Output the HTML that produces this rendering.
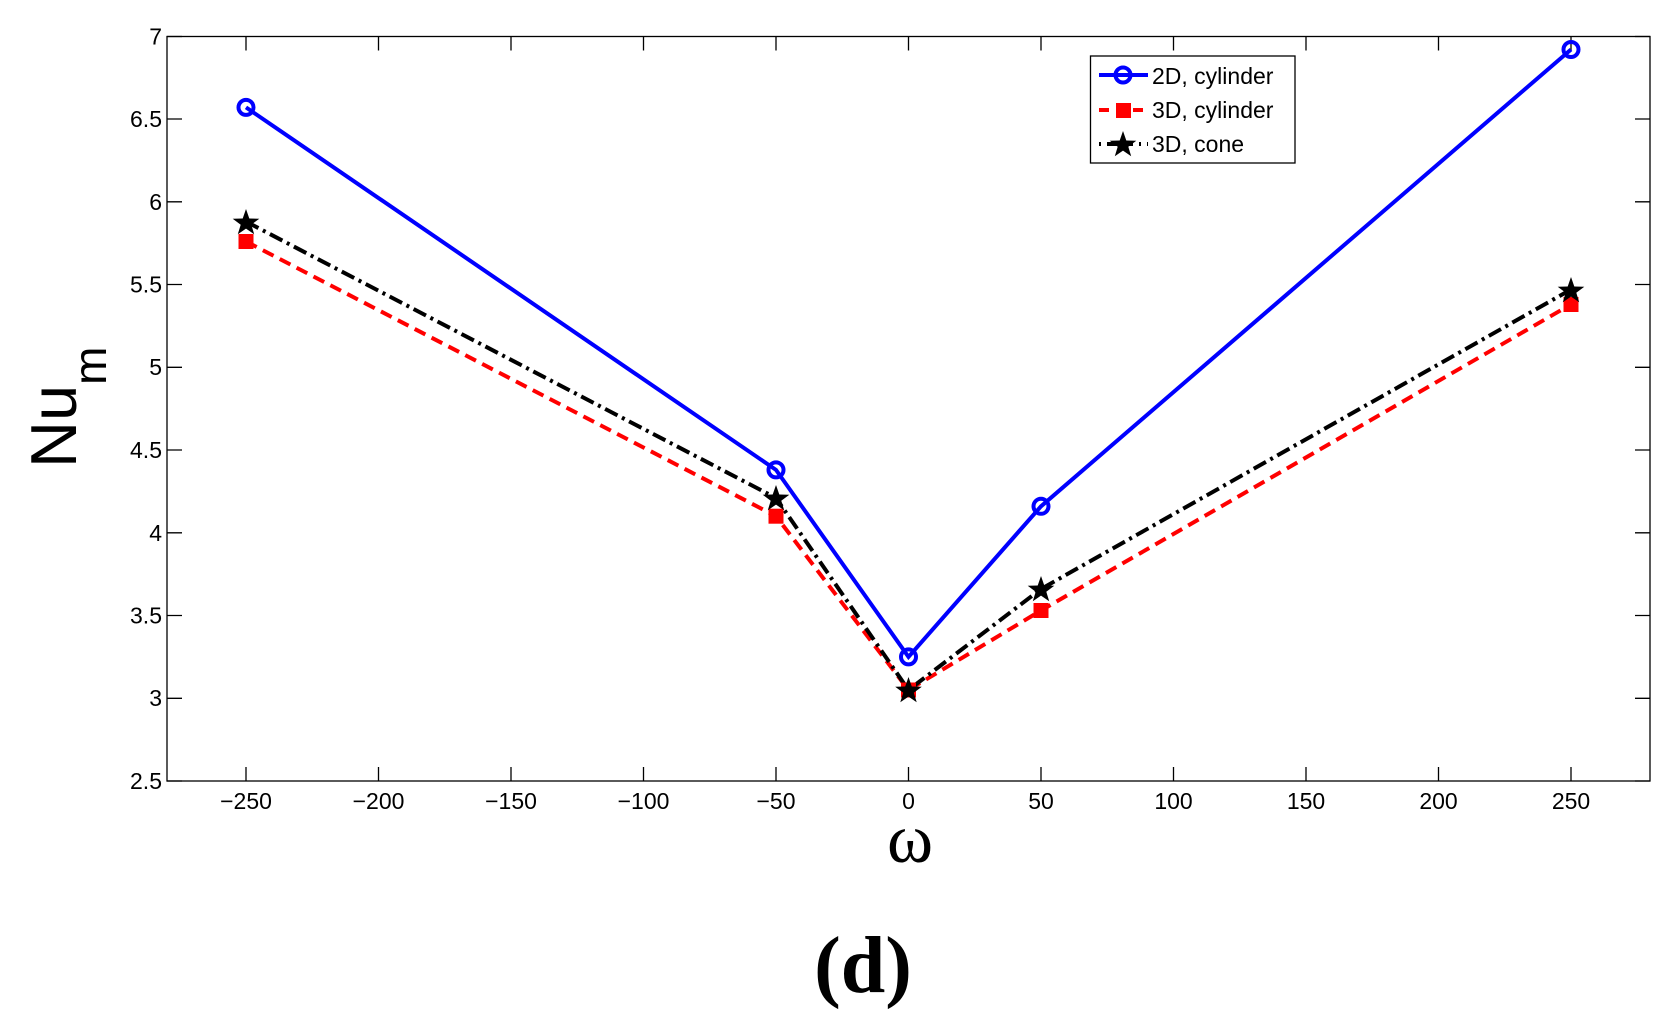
<!DOCTYPE html>
<html><head><meta charset="utf-8"><style>
html,body{margin:0;padding:0;background:#fff;}
svg{display:block;}
text{font-family:"Liberation Sans",sans-serif;}
</style></head><body>
<svg width="1680" height="1030" viewBox="0 0 1680 1030" xmlns="http://www.w3.org/2000/svg">
<rect x="167" y="36.5" width="1483" height="744.5" fill="#fff" stroke="#000" stroke-width="1.3"/>
<g stroke="#000" stroke-width="1.3">
<path d="M246 781v-14M246 36.5v14M378.5 781v-14M378.5 36.5v14M511 781v-14M511 36.5v14M643.5 781v-14M643.5 36.5v14M776 781v-14M776 36.5v14M908.5 781v-14M908.5 36.5v14M1041 781v-14M1041 36.5v14M1173.5 781v-14M1173.5 36.5v14M1306 781v-14M1306 36.5v14M1438.5 781v-14M1438.5 36.5v14M1571 781v-14M1571 36.5v14"/>
<path d="M167 781h15M1650 781h-15M167 698.3h15M1650 698.3h-15M167 615.5h15M1650 615.5h-15M167 532.8h15M1650 532.8h-15M167 450h15M1650 450h-15M167 367.3h15M1650 367.3h-15M167 284.5h15M1650 284.5h-15M167 201.8h15M1650 201.8h-15M167 119h15M1650 119h-15M167 36.5h15M1650 36.5h-15"/>
</g>
<g font-size="23" text-anchor="middle">
<text x="246" y="809">−250</text><text x="378.5" y="809">−200</text><text x="511" y="809">−150</text><text x="643.5" y="809">−100</text><text x="776" y="809">−50</text><text x="908.5" y="809">0</text><text x="1041" y="809">50</text><text x="1173.5" y="809">100</text><text x="1306" y="809">150</text><text x="1438.5" y="809">200</text><text x="1571" y="809">250</text>
</g>
<g font-size="23" text-anchor="end">
<text x="162" y="789">2.5</text><text x="162" y="706">3</text><text x="162" y="623.5">3.5</text><text x="162" y="541">4</text><text x="162" y="458">4.5</text><text x="162" y="375">5</text><text x="162" y="292.5">5.5</text><text x="162" y="210">6</text><text x="162" y="127">6.5</text><text x="162" y="44.5">7</text>
</g>
<text transform="translate(76,468) rotate(-90)" font-size="65">Nu<tspan font-size="46" dy="30">m</tspan></text>
<text x="910" y="862" font-size="70" text-anchor="middle" style="font-family:'Liberation Serif',serif">ω</text>
<text x="863" y="992" font-weight="bold" font-size="80" text-anchor="middle" style="font-family:'Liberation Serif',serif">(d)</text>
<polyline points="246,107.4 776,469.9 908.5,656.9 1041,506.3 1571,49.5" fill="none" stroke="#0000ff" stroke-width="4"/>
<polyline points="246,241.5 776,516.2 908.5,690 1041,610.5 1571,304.4" fill="none" stroke="#ff0000" stroke-width="4" stroke-dasharray="12,7"/>
<polyline points="246,221.6 776,498 908.5,690 1041,589 1571,289.5" fill="none" stroke="#000" stroke-width="4" stroke-dasharray="14,5,3,5"/>
<g fill="none" stroke="#0000ff" stroke-width="4">
<circle cx="246" cy="107.4" r="7.5"/><circle cx="776" cy="469.9" r="7.5"/><circle cx="908.5" cy="656.9" r="7.5"/><circle cx="1041" cy="506.3" r="7.5"/><circle cx="1571" cy="49.5" r="7.5"/>
</g>
<g fill="#ff0000">
<rect x="238.5" y="234" width="15" height="15"/><rect x="768.5" y="508.7" width="15" height="15"/><rect x="901" y="682.5" width="15" height="15"/><rect x="1033.5" y="603" width="15" height="15"/><rect x="1563.5" y="297" width="15" height="15"/>
</g>
<defs><path id="st" d="M0,-14 L3.3,-4.5 L13.3,-4.3 L5.3,1.7 L8.2,11.3 L0,5.6 L-8.2,11.3 L-5.3,1.7 L-13.3,-4.3 L-3.3,-4.5Z" fill="#000"/></defs>
<use href="#st" x="246" y="223"/><use href="#st" x="776" y="499"/><use href="#st" x="908.5" y="691"/><use href="#st" x="1041" y="590"/><use href="#st" x="1571" y="291"/>
<rect x="1090.5" y="56" width="204.5" height="107" fill="#fff" stroke="#000" stroke-width="1.3"/>
<line x1="1099" y1="75" x2="1148" y2="75" stroke="#0000ff" stroke-width="4"/>
<circle cx="1123" cy="75" r="7.5" fill="none" stroke="#0000ff" stroke-width="4"/>
<line x1="1099" y1="110" x2="1148" y2="110" stroke="#ff0000" stroke-width="4" stroke-dasharray="10,7"/>
<rect x="1116" y="103" width="15" height="15" fill="#ff0000"/>
<line x1="1099" y1="144" x2="1148" y2="144" stroke="#000" stroke-width="4" stroke-dasharray="2,6,26,6"/>
<use href="#st" x="1123" y="145"/>
<g font-size="23">
<text x="1152" y="84">2D, cylinder</text>
<text x="1152" y="118">3D, cylinder</text>
<text x="1152" y="152">3D, cone</text>
</g>
</svg>
</body></html>
